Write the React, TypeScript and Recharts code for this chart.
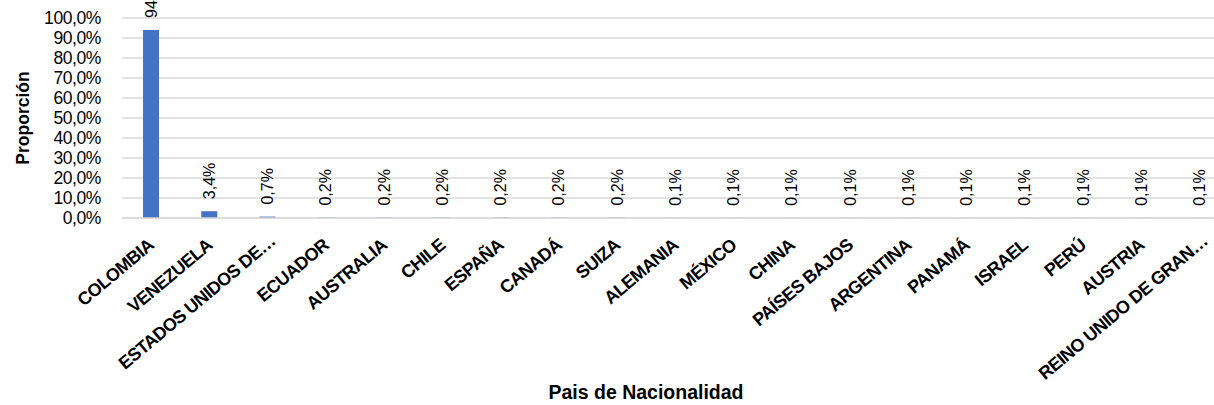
import { BarChart, Bar, XAxis, YAxis, CartesianGrid, LabelList } from 'recharts';

const countries = [
  'COLOMBIA', 'VENEZUELA', 'ESTADOS UNIDOS DE…', 'ECUADOR', 'AUSTRALIA', 'CHILE', 'ESPAÑA',
  'CANADÁ', 'SUIZA', 'ALEMANIA', 'MÉXICO', 'CHINA', 'PAÍSES BAJOS', 'ARGENTINA', 'PANAMÁ',
  'ISRAEL', 'PERÚ', 'AUSTRIA', 'REINO UNIDO DE GRAN…',
];
const proportion = [94.0, 3.4, 0.7, 0.2, 0.2, 0.2, 0.2, 0.2, 0.2, 0.1, 0.1, 0.1, 0.1, 0.1, 0.1, 0.1, 0.1, 0.1, 0.1];
const yTicks = [0, 10, 20, 30, 40, 50, 60, 70, 80, 90, 100];

const data = countries.map((c, i) => ({ country: c, value: proportion[i] }));

const FONT = "'Liberation Sans', Arial, sans-serif";
const pct = (v: number) => v.toFixed(1).replace('.', ',') + '%';

function CountryTick(props: any) {
  const { x, y, payload } = props;
  const cut = String(payload.value).endsWith('…');
  // truncated labels sit a bit further along the slant in the original
  const tx = x + (cut ? 9 : 4);
  const ty = y + (cut ? 17 : 21);
  return (
    <text
      x={tx}
      y={ty}
      transform={`rotate(-40, ${tx}, ${ty})`}
      textAnchor="end"
      fontSize={18}
      fontWeight="bold"
      fontFamily={FONT}
      letterSpacing={-0.6}
      fill="#000"
    >
      {payload.value}
    </text>
  );
}

function ValueLabel(props: any) {
  const { x, y, width, value } = props;
  const cx = x + width / 2;
  const ty = y - 12;
  return (
    <text
      x={cx}
      y={ty}
      transform={`rotate(-90, ${cx}, ${ty})`}
      textAnchor="start"
      dominantBaseline="central"
      fontSize={16}
      fontFamily={FONT}
      fill="#000"
    >
      {pct(value)}
    </text>
  );
}

export default function App() {
  return (
    <div style={{ position: 'fixed', left: 0, top: 0, width: 1214, height: 405, overflow: 'hidden', background: '#fff' }}>
      {/* the plot area runs past the right edge in the original, so the chart is wider than the frame */}
      <BarChart
        width={1240}
        height={405}
        data={data}
        margin={{ top: 18, right: 11, left: 0, bottom: 0 }}
      >
        <CartesianGrid vertical={false} stroke="#d9d9d9" strokeWidth={1.5} />
        <XAxis
          dataKey="country"
          interval={0}
          height={187}
          axisLine={{ stroke: '#d9d9d9', strokeWidth: 1.5 }}
          tickLine={false}
          tick={<CountryTick />}
          label={{
            content: () => (
              <text x={646} y={399} textAnchor="middle" fontSize={19.5} fontWeight="bold" fontFamily={FONT} fill="#000">
                Pais de Nacionalidad
              </text>
            ),
          }}
        />
        <YAxis
          width={122}
          domain={[0, 100]}
          ticks={yTicks}
          interval={0}
          axisLine={false}
          tickLine={false}
          tickSize={0}
          tickMargin={21}
          tickFormatter={pct}
          tick={{ fontSize: 17.5, fill: '#000', fontFamily: FONT, letterSpacing: -0.4 }}
          label={{
            content: () => (
              <text
                x={23}
                y={118}
                transform="rotate(-90, 23, 118)"
                textAnchor="middle"
                dominantBaseline="central"
                fontSize={17.5}
                fontWeight="bold"
                fontFamily={FONT}
                fill="#000"
              >
                Proporción
              </text>
            ),
          }}
        />
        <Bar dataKey="value" fill="#4472C4" barSize={16} isAnimationActive={false}>
          <LabelList dataKey="value" content={<ValueLabel />} />
        </Bar>
      </BarChart>
    </div>
  );
}
